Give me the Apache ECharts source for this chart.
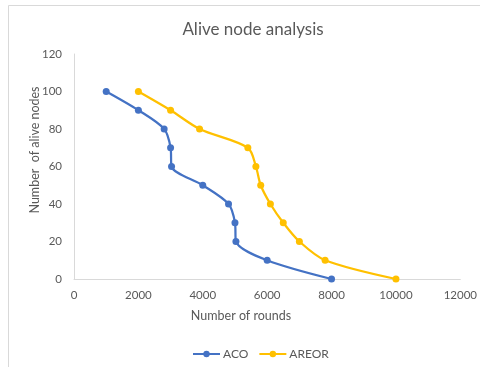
<!DOCTYPE html>
<html>
<head>
<meta charset="utf-8">
<script src="https://cdn.jsdelivr.net/npm/echarts@6/dist/echarts.min.js"></script>
<style>
  html, body { margin: 0; padding: 0; background: #fff; }
  #chart { width: 480px; height: 367px; }
</style>
</head>
<body>
<div id="chart"></div>
<script>
// Rounds at which the alive-node count was sampled, per protocol
const acoRounds = [1000, 2000, 2800, 3000, 3030, 4000, 4800, 5000, 5030, 6000, 8000];
const acoAlive = [100, 90, 80, 70, 60, 50, 40, 30, 20, 10, 0];
const areorRounds = [2000, 3000, 3900, 5400, 5650, 5800, 6100, 6500, 7000, 7800, 10000];
const areorAlive = [100, 90, 80, 70, 60, 50, 40, 30, 20, 10, 0];
const seriesNames = ['ACO', 'AREOR'];
const seriesColors = ['#4472C4', '#FFC000'];

const FONT = 'Lato, "Open Sans", sans-serif';
const TXT = '#595959';

function pairs(xs, ys) { return xs.map((x, i) => [x, ys[i]]); }

function lineSeries(name, color, data) {
  return {
    name: name,
    type: 'line',
    data: data,
    smooth: 0.3,
    symbol: 'circle',
    symbolSize: 7,
    lineStyle: { color: color, width: 2.25 },
    itemStyle: { color: color },
    animation: false
  };
}

const chart = echarts.init(document.getElementById('chart'), null, { renderer: 'canvas' });
chart.setOption({
  backgroundColor: '#fff',
  title: {
    text: 'Alive node analysis',
    left: 248, top: 16, textAlign: 'center',
    textStyle: { fontFamily: FONT, fontSize: 17, fontWeight: 'normal', color: TXT }
  },
  legend: {
    data: seriesNames,
    left: 187, top: 343,
    itemWidth: 27, itemHeight: 8, itemGap: 10,
    textStyle: { fontFamily: FONT, fontSize: 12, color: TXT, padding: [0, 0, 0, -2] }
  },
  grid: { left: 74, right: 19, top: 54, bottom: 88 },
  xAxis: {
    type: 'value', min: 0, max: 12000, interval: 2000,
    axisLine: { show: true, lineStyle: { color: '#d9d9d9', width: 1 } },
    axisTick: { show: false },
    splitLine: { show: false },
    axisLabel: { fontFamily: FONT, fontSize: 11.5, color: TXT, margin: 10, formatter: v => String(v) }
  },
  yAxis: {
    type: 'value', min: 0, max: 120, interval: 20,
    axisLine: { show: true, lineStyle: { color: '#d9d9d9', width: 1 } },
    axisTick: { show: false },
    splitLine: { show: false },
    axisLabel: { fontFamily: FONT, fontSize: 11.5, color: TXT, margin: 12 }
  },
  graphic: [
    {
      type: 'rect', silent: true, z: -1,
      shape: { x: 8.5, y: 5.5, width: 480, height: 370 },
      style: { fill: 'none', stroke: '#d9d9d9', lineWidth: 1 }
    },
    {
      type: 'text', x: 241, y: 316,
      style: { text: 'Number of rounds', font: '12.5px ' + FONT, fill: TXT, align: 'center', verticalAlign: 'middle' }
    },
    {
      type: 'text', x: 35, y: 150, rotation: Math.PI / 2,
      style: { text: 'Number  of alive nodes', font: '12.5px ' + FONT, fill: TXT, align: 'center', verticalAlign: 'middle' }
    }
  ],
  series: [
    lineSeries(seriesNames[0], seriesColors[0], pairs(acoRounds, acoAlive)),
    lineSeries(seriesNames[1], seriesColors[1], pairs(areorRounds, areorAlive))
  ]
});
</script>
</body>
</html>
